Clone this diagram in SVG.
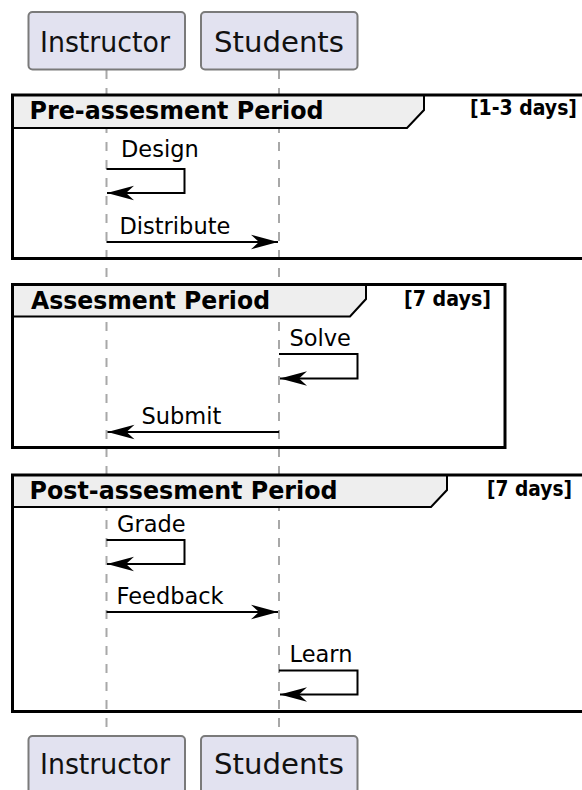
<svg xmlns="http://www.w3.org/2000/svg" width="582" height="790" viewBox="0 0 582 790">
<style>
.part{fill:#E2E2F0;stroke:#7A7A7A;stroke-width:2}
.ptxt{font-family:"DejaVu Sans",sans-serif;font-size:28px;fill:#111;text-anchor:middle}
.life{stroke:#A8A8A8;stroke-width:2;stroke-dasharray:9,9;fill:none}
.frame{fill:none;stroke:#000;stroke-width:3}
.head{fill:#EEEEEE;stroke:#000;stroke-width:2}
.ftitle{font-family:"DejaVu Sans",sans-serif;font-weight:bold;font-size:24px;fill:#000}
.fcond{font-family:"DejaVu Sans",sans-serif;font-weight:bold;font-size:21px;fill:#000}
.msg{fill:none;stroke:#000;stroke-width:2;marker-end:url(#ah)}
.mtxt{font-family:"DejaVu Sans",sans-serif;font-size:22.5px;fill:#000}
</style>
<defs>
<marker id="ah" markerUnits="userSpaceOnUse" markerWidth="30" markerHeight="18" viewBox="-28 -8 30 16" refX="0" refY="0" orient="auto">
<polygon points="0,0 -27,-7.3 -19,0 -27,7.3" fill="#000"/>
</marker>
</defs>
<g id="lifelines">
<line class="life" x1="106.5" y1="70" x2="106.5" y2="736"/>
<line class="life" x1="279" y1="70" x2="279" y2="736"/>
</g>
<g id="participant-instructor-top"><rect class="part" x="28.5" y="12" width="156.5" height="57.5" rx="4"/><text class="ptxt" x="105" y="52" textLength="130" lengthAdjust="spacingAndGlyphs">Instructor</text></g>
<g id="participant-students-top"><rect class="part" x="201" y="12" width="156.5" height="57.5" rx="4"/><text class="ptxt" x="279" y="52" textLength="130" lengthAdjust="spacingAndGlyphs">Students</text></g>
<g id="participant-instructor-bottom"><rect class="part" x="28.5" y="736" width="156.5" height="57.5" rx="4"/><text class="ptxt" x="105" y="774" textLength="130" lengthAdjust="spacingAndGlyphs">Instructor</text></g>
<g id="participant-students-bottom"><rect class="part" x="201" y="736" width="156.5" height="57.5" rx="4"/><text class="ptxt" x="279" y="774" textLength="130" lengthAdjust="spacingAndGlyphs">Students</text></g>
<g id="frame-pre">
<path class="head" d="M12.5,95 H424 V110 L407,128 H12.5 Z"/>
<rect class="frame" x="12.5" y="95" width="571" height="163.5"/>
<text class="fcond" x="470" y="114.5" textLength="107" lengthAdjust="spacingAndGlyphs">[1-3 days]</text>
<text class="ftitle" x="29.5" y="119" textLength="294" lengthAdjust="spacingAndGlyphs">Pre-assesment Period</text>
</g>
<g id="frame-assess">
<path class="head" d="M12.5,284.5 H366 V299 L350,316.5 H12.5 Z"/>
<rect class="frame" x="12.5" y="284.5" width="492.5" height="163"/>
<text class="ftitle" x="31" y="309" textLength="239" lengthAdjust="spacingAndGlyphs">Assesment Period</text>
<text class="fcond" x="404" y="305.5" textLength="87" lengthAdjust="spacingAndGlyphs">[7 days]</text>
</g>
<g id="frame-post">
<path class="head" d="M12.5,475 H447 V490 L431,507 H12.5 Z"/>
<rect class="frame" x="12.5" y="475" width="571" height="236.5"/>
<text class="ftitle" x="29.5" y="499" textLength="308" lengthAdjust="spacingAndGlyphs">Post-assesment Period</text>
<text class="fcond" x="487" y="495.5" textLength="85" lengthAdjust="spacingAndGlyphs">[7 days]</text>
</g>
<g id="connectors">
<path class="msg" d="M106.5,169 H184.5 V193 H107"/>
<text class="mtxt" x="121" y="157">Design</text>
<path class="msg" d="M106.5,242 H278"/>
<text class="mtxt" x="119.5" y="234">Distribute</text>
<path class="msg" d="M279,354 H357.5 V378.5 H280"/>
<text class="mtxt" x="289.5" y="346">Solve</text>
<path class="msg" d="M279,432 H107.5"/>
<text class="mtxt" x="141.5" y="424">Submit</text>
<path class="msg" d="M106.5,540 H184.5 V564 H107"/>
<text class="mtxt" x="117" y="532">Grade</text>
<path class="msg" d="M106.5,612 H278"/>
<text class="mtxt" x="116.5" y="604">Feedback</text>
<path class="msg" d="M279,670.5 H357.5 V694.5 H280"/>
<text class="mtxt" x="289.5" y="662">Learn</text>
</g>
</svg>
